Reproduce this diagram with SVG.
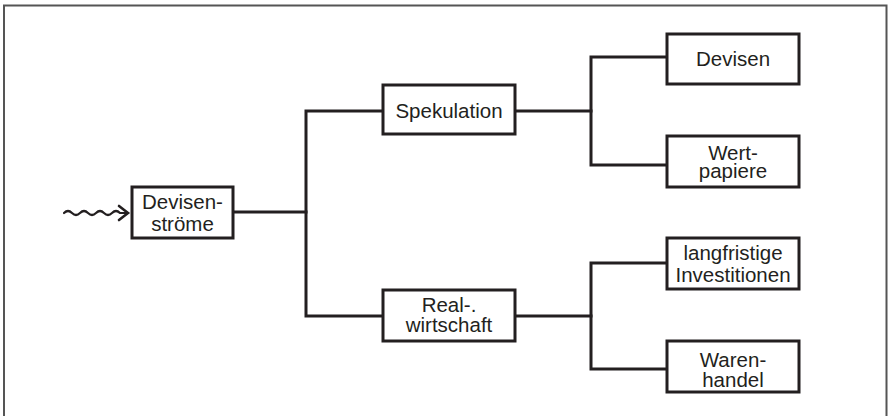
<svg xmlns="http://www.w3.org/2000/svg" width="888" height="416" viewBox="0 0 888 416">
  <style>
    .box { fill: #fff; stroke: #231f20; stroke-width: 3; }
    .wire { fill: none; stroke: #231f20; stroke-width: 3; stroke-linecap: square; }
    .lbl { font-family: "Liberation Sans", Arial, sans-serif; font-size: 20.5px; fill: #231f20; text-anchor: middle; }
  </style>
  <rect width="888" height="416" fill="#fff"/>
  <!-- open frame: left, top and right sides -->
  <path d="M4,416 V5.5 H886.5 V416" fill="none" stroke="#555" stroke-width="2"/>

  <g id="connectors">
    <!-- wavy input arrow -->
    <path class="wire" style="stroke-width:2.2;stroke-linecap:round" d="M64,213 q4,-4 8,0 t8,0 t8,0 t8,0 t8,0 t8,0 t8,0 H127"/>
    <path class="wire" style="stroke-width:2.6;stroke-linecap:round;stroke-linejoin:miter" d="M119,206 L128,213 L119,220"/>
    <!-- first split -->
    <path class="wire" d="M233,212 H306"/>
    <path class="wire" d="M383,111 H306 V316 H383"/>
    <!-- upper split -->
    <path class="wire" d="M515,111 H591"/>
    <path class="wire" d="M667,57 H591 V165 H667"/>
    <!-- lower split -->
    <path class="wire" d="M515,316 H591"/>
    <path class="wire" d="M667,263 H591 V369 H667"/>
  </g>

  <g id="devisenstroeme">
    <rect class="box" x="132" y="187" width="101" height="51"/>
    <text class="lbl" x="182.5" y="209">Devisen-</text>
    <text class="lbl" x="182.5" y="231">ströme</text>
  </g>

  <g id="spekulation">
    <rect class="box" x="383" y="85" width="132" height="49"/>
    <text class="lbl" x="449" y="118">Spekulation</text>
  </g>

  <g id="realwirtschaft">
    <rect class="box" x="383" y="290" width="132" height="51"/>
    <text class="lbl" x="449" y="312">Real-.</text>
    <text class="lbl" x="449" y="332">wirtschaft</text>
  </g>

  <g id="devisen">
    <rect class="box" x="667" y="34" width="132" height="50"/>
    <text class="lbl" x="733" y="66">Devisen</text>
  </g>

  <g id="wertpapiere">
    <rect class="box" x="667" y="136" width="132" height="51"/>
    <text class="lbl" x="733" y="159.5">Wert-</text>
    <text class="lbl" x="733" y="178">papiere</text>
  </g>

  <g id="investitionen">
    <rect class="box" x="667" y="238" width="132" height="51"/>
    <text class="lbl" x="733" y="260">langfristige</text>
    <text class="lbl" x="733" y="281.5">Investitionen</text>
  </g>

  <g id="warenhandel">
    <rect class="box" x="667" y="341" width="132" height="51"/>
    <text class="lbl" x="733" y="366.5">Waren-</text>
    <text class="lbl" x="733" y="386.5">handel</text>
  </g>
</svg>
